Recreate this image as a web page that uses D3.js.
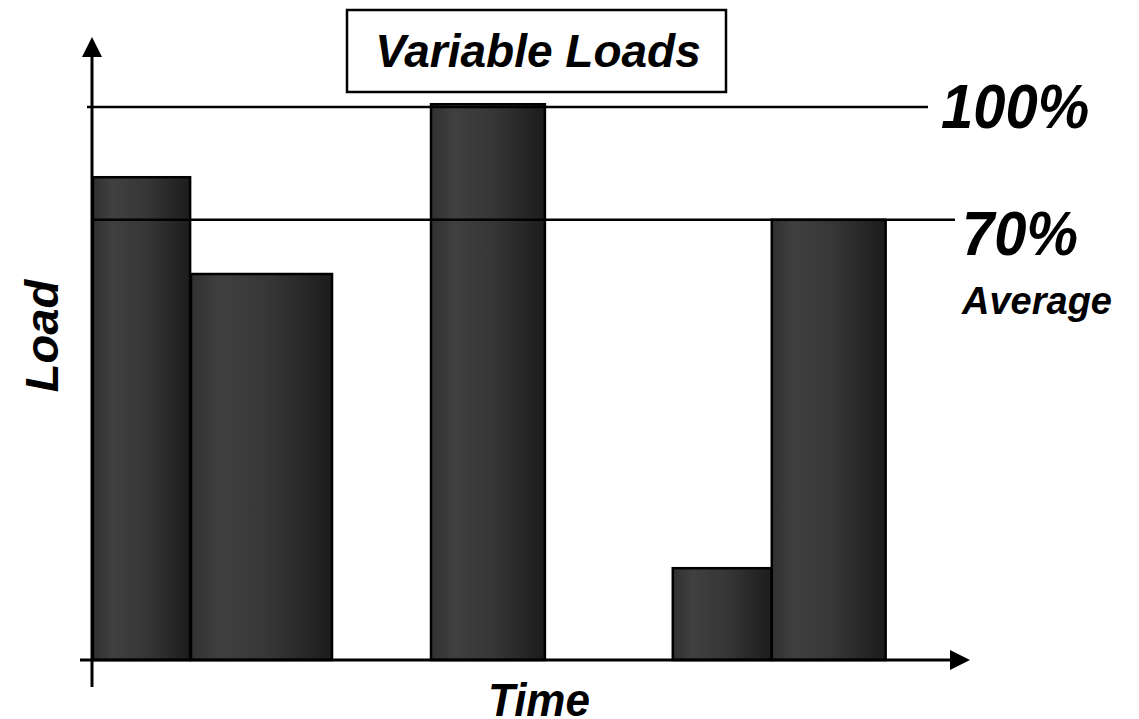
<!DOCTYPE html>
<html>
<head>
<meta charset="utf-8">
<script src="https://cdn.jsdelivr.net/npm/d3@7"></script>
<style>
  body { margin: 0; background: #fff; }
  text { font-family: "Liberation Sans", Arial, sans-serif; font-weight: bold; font-style: italic; }
</style>
</head>
<body>
<div id="chart"></div>
<script>
// data: load blocks over time (start, end in time units, load in %-ish units)
var blockStart = [0.1, 11.3, 38.7, 66.3, 77.6];
var blockEnd = [11.2, 27.4, 51.7, 77.6, 90.6];
var blockLoad = [87.3, 69.8, 100.5, 16.6, 79.6];
// reference lines
var refValues = [100, 79.6];
var refLabels = ["100%", "70%"];

var svgWidth = 1139;
var svgHeight = 719;

var svg = d3.select("#chart")
    .append("svg")
    .attr("width", svgWidth)
    .attr("height", svgHeight);

// scales
var xScale = d3.scaleLinear().domain([0, 100]).range([92, 968]);
var yScale = d3.scaleLinear().domain([0, 100]).range([660, 107]);

// gradient for the bars
var defs = svg.append("defs");
var grad = defs.append("linearGradient")
    .attr("id", "barGrad")
    .attr("x1", "0%").attr("x2", "100%")
    .attr("y1", "0%").attr("y2", "0%");
grad.append("stop").attr("offset", "0%").attr("stop-color", "#303030");
grad.append("stop").attr("offset", "20%").attr("stop-color", "#404040");
grad.append("stop").attr("offset", "55%").attr("stop-color", "#363636");
grad.append("stop").attr("offset", "100%").attr("stop-color", "#1c1c1c");

var blocks = blockStart.map(function(s, i) {
    return { start: s, end: blockEnd[i], load: blockLoad[i] };
});

// bars
svg.selectAll("rect.bar")
    .data(blocks)
    .enter()
    .append("rect")
    .attr("class", "bar")
    .attr("x", d => xScale(d.start))
    .attr("y", d => yScale(d.load))
    .attr("width", d => xScale(d.end) - xScale(d.start))
    .attr("height", d => yScale(0) - yScale(d.load))
    .attr("fill", "url(#barGrad)")
    .attr("stroke", "#000")
    .attr("stroke-width", 2.5);

// reference lines (100% and 70% average)
var refEnds = [928, 955];
svg.selectAll("line.ref")
    .data(refValues)
    .enter()
    .append("line")
    .attr("class", "ref")
    .attr("x1", (d, i) => i == 0 ? 87 : xScale(0))
    .attr("x2", (d, i) => refEnds[i])
    .attr("y1", d => yScale(d))
    .attr("y2", d => yScale(d))
    .attr("stroke", "#000")
    .attr("stroke-width", 2.5);

// labels are a bit taller than wide in the original
svg.append("text")
    .attr("transform", "translate(941,128) scale(1,1.1)")
    .attr("font-size", 58)
    .text(refLabels[0]);
svg.append("text")
    .attr("transform", "translate(962,255) scale(1,1.1)")
    .attr("font-size", 58)
    .text(refLabels[1]);
svg.append("text")
    .attr("x", 962).attr("y", 314)
    .attr("font-size", 38)
    .text("Average");

// axes with arrow heads
svg.append("line")
    .attr("x1", xScale(0)).attr("x2", xScale(0))
    .attr("y1", 687).attr("y2", 50)
    .attr("stroke", "#000").attr("stroke-width", 3);
svg.append("path")
    .attr("d", "M" + (xScale(0) - 10) + ",57 L" + xScale(0) + ",37 L" + (xScale(0) + 10) + ",57 Z")
    .attr("fill", "#000");

svg.append("line")
    .attr("x1", 80).attr("x2", 955)
    .attr("y1", yScale(0)).attr("y2", yScale(0))
    .attr("stroke", "#000").attr("stroke-width", 3);
svg.append("path")
    .attr("d", "M950," + (yScale(0) - 10) + " L970," + yScale(0) + " L950," + (yScale(0) + 10) + " Z")
    .attr("fill", "#000");

// axis labels
svg.append("text")
    .attr("transform", "translate(539,716) scale(1,1.05)")
    .attr("text-anchor", "middle")
    .attr("font-size", 44)
    .text("Time");

svg.append("text")
    .attr("transform", "translate(58, 336) rotate(-90)")
    .attr("text-anchor", "middle")
    .attr("font-size", 47)
    .text("Load");

// title box
svg.append("rect")
    .attr("x", 347).attr("y", 10)
    .attr("width", 379).attr("height", 82)
    .attr("fill", "#fff")
    .attr("stroke", "#000")
    .attr("stroke-width", 2.5);
svg.append("text")
    .attr("x", 538).attr("y", 67)
    .attr("text-anchor", "middle")
    .attr("font-size", 46)
    .text("Variable Loads");
</script>
</body>
</html>
